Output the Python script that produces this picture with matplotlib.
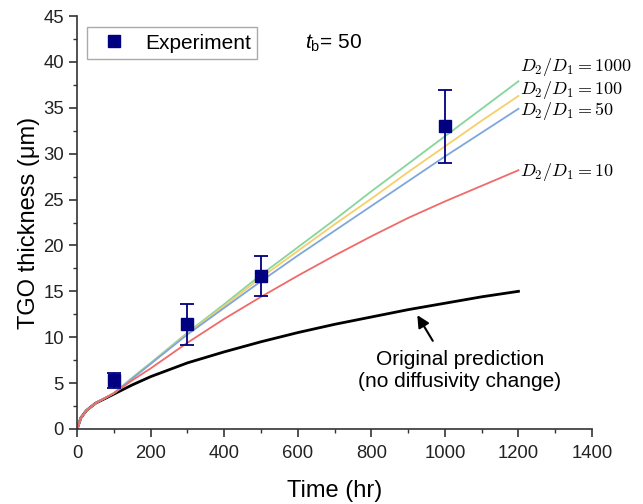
import matplotlib
matplotlib.use('Agg')
import matplotlib.pyplot as plt
from matplotlib.ticker import MultipleLocator

plt.rcParams['font.family'] = ['Liberation Sans', 'DejaVu Sans']
plt.rcParams['mathtext.fontset'] = 'cm'
plt.rcParams['mathtext.rm'] = 'Liberation Sans'
plt.rcParams['mathtext.it'] = 'Liberation Sans:italic'

# experiment
exp_t = [100, 300, 500, 1000]
exp_y = [5.3, 11.4, 16.7, 33.0]
exp_lo = [4.5, 9.2, 14.5, 29.0]
exp_hi = [6.1, 13.6, 18.8, 37.0]

# model curves
t_curve = [0, 10, 25, 50, 75, 100, 150, 200, 300, 400, 500, 600, 700, 800, 900, 1000, 1100, 1200]
orig = [0, 1.2, 2.0, 2.8, 3.3, 3.8, 4.8, 5.7, 7.2, 8.4, 9.5, 10.5, 11.4, 12.2, 13.0, 13.7, 14.4, 15.0]
d10 = [0, 1.2, 2.0, 2.8, 3.35, 3.9, 5.3, 6.6, 9.4, 12.0, 14.4, 16.7, 18.9, 21.0, 23.0, 24.8, 26.5, 28.2]
d50 = [0, 1.2, 2.0, 2.8, 3.35, 3.9, 5.5, 7.1, 10.3, 13.2, 16.1, 18.9, 21.6, 24.3, 27.0, 29.7, 32.3, 34.9]
d100 = [0, 1.2, 2.0, 2.8, 3.35, 3.9, 5.5, 7.1, 10.4, 13.4, 16.5, 19.4, 22.3, 25.1, 28.0, 30.8, 33.6, 36.3]
d1000 = [0, 1.2, 2.0, 2.8, 3.35, 3.9, 5.6, 7.2, 10.5, 13.6, 16.8, 19.8, 22.8, 25.9, 28.9, 31.9, 34.9, 37.9]

curves = [
    (d1000, '#86d69c', r'$D_2/D_1 = 1000$', 39.4),
    (d100, '#f7cf6a', r'$D_2/D_1 = 100$', 37.0),
    (d50, '#7fa6dc', r'$D_2/D_1 = 50$', 34.7),
    (d10, '#f06a6a', r'$D_2/D_1 = 10$', 28.0),
]

fig = plt.figure(figsize=(6.43, 5.04), dpi=100)
ax = fig.add_axes([0.12, 0.149, 0.8007, 0.819])

ax.plot(t_curve, orig, color='black', lw=2)
for ys, col, lab, ylab in curves:
    ax.plot(t_curve, ys, color=col, lw=1.3)
    ax.text(1204, ylab, lab, fontsize=13, va='center', ha='left')

yerr = [[y - lo for y, lo in zip(exp_y, exp_lo)], [hi - y for y, hi in zip(exp_y, exp_hi)]]
ax.errorbar(exp_t, exp_y, yerr=yerr, fmt='none', ecolor='#000080',
            elinewidth=1.3, capsize=5, capthick=1.3, zorder=5)
ax.plot(exp_t, exp_y, 's', color='#000080', ms=9, label='Experiment', zorder=6)

ax.legend(loc='upper left', bbox_to_anchor=(0.019, 0.973), borderaxespad=0,
          fontsize=15, fancybox=False, edgecolor='#aaaaaa', framealpha=1,
          handletextpad=0.5, borderpad=0.3, handlelength=2.0)

ax.text(0.443, 0.935, r'$t_\mathrm{b}$= 50', transform=ax.transAxes, fontsize=15,
        ha='left', va='center', math_fontfamily='custom')

ax.text(1041, 6.4, 'Original prediction\n(no diffusivity change)',
        ha='center', va='center', fontsize=15)
ax.annotate('', xy=(925, 12.4), xytext=(967, 9.6),
            arrowprops=dict(arrowstyle='-|>', color='black', lw=1.5,
                            mutation_scale=18, shrinkA=0, shrinkB=0))

ax.set_xlim(0, 1400)
ax.set_ylim(0, 45)
ax.xaxis.set_major_locator(MultipleLocator(200))
ax.xaxis.set_minor_locator(MultipleLocator(100))
ax.yaxis.set_major_locator(MultipleLocator(5))
ax.yaxis.set_minor_locator(MultipleLocator(2.5))
ax.spines['top'].set_visible(False)
ax.spines['right'].set_visible(False)
for s in ('left', 'bottom'):
    ax.spines[s].set_color('#333333')
    ax.spines[s].set_linewidth(1.2)
ax.tick_params(which='major', direction='out', length=6, width=1.2, labelsize=13.3, colors='#333333', labelcolor='#222222')
ax.tick_params(axis='x', which='major', pad=5.5)
ax.tick_params(which='minor', direction='out', length=3, width=1.0, colors='#333333')

ax.set_xlabel('Time (hr)', fontsize=17, labelpad=13)
ax.set_ylabel('TGO thickness (\u03bcm)', fontsize=17, labelpad=2)

fig.savefig('out.png', dpi=100)
